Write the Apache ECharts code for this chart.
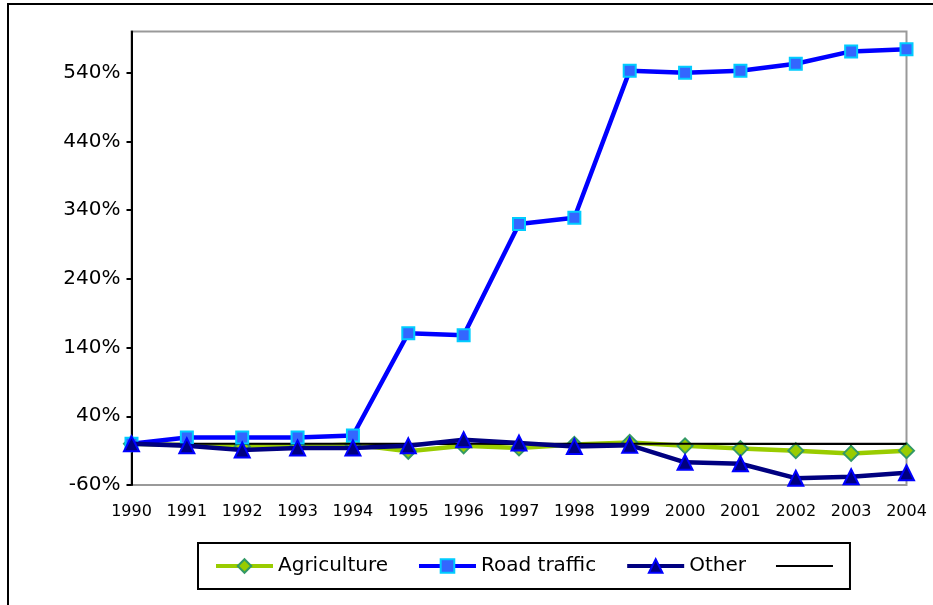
<!DOCTYPE html>
<html>
<head>
<meta charset="utf-8">
<script src="https://cdn.jsdelivr.net/npm/echarts@6/dist/echarts.min.js"></script>
<style>
  html, body { margin: 0; padding: 0; background: #fff; }
  #main { width: 933px; height: 605px; }
</style>
</head>
<body>
<div id="main"></div>
<script>
var years = ['1990', '1991', '1992', '1993', '1994', '1995', '1996', '1997', '1998', '1999', '2000', '2001', '2002', '2003', '2004'];
var agriculture = [0, -2, -4, -4, -1, -11, -3, -6, -1, 2, -3, -7, -10, -14, -10];
var roadTraffic = [0, 9, 9, 9, 12, 161, 158, 320, 329, 543, 540, 543, 553, 571, 574];
var other = [0, -3, -9, -6, -6, -3, 6, 1, -4, -2, -27, -29, -50, -48, -42];
var baseline = [0, 0, 0, 0, 0, 0, 0, 0, 0, 0, 0, 0, 0, 0, 0];
var yTicks = [-60, 40, 140, 240, 340, 440, 540];

function getChart(){
    var dom = document.getElementById("main");
    var myChart = echarts.init(dom);
    var font = 'DejaVu Sans';
    var option = {
        animation: false,
        backgroundColor: '#fff',
        textStyle: { fontFamily: font },
        graphic: [{
            type: 'rect',
            shape: { x: 8, y: 4, width: 960, height: 640 },
            style: { fill: 'none', stroke: '#000', lineWidth: 2 },
            silent: true
        }],
        grid: {
            left: 131.5,
            right: 26.5,
            top: 31.5,
            bottom: 120,
            show: true,
            borderColor: '#999',
            borderWidth: 2,
            backgroundColor: 'transparent'
        },
        legend: {
            left: 198,
            top: 543,
            padding: [13, 16, 13, 16],
            borderColor: '#000',
            borderWidth: 2,
            itemWidth: 57,
            itemHeight: 17,
            itemGap: 29,
            textStyle: { fontFamily: font, fontSize: 20, color: '#000' },
            data: [
                { name: 'Agriculture', lineStyle: { width: 4 } },
                { name: 'Road traffic', lineStyle: { width: 4 } },
                { name: 'Other', lineStyle: { width: 4 } },
                { name: 'Baseline', itemStyle: { opacity: 0 }, lineStyle: { width: 2, color: '#000', opacity: 1 } }
            ],
            formatter: function (name) {
                return name === 'Baseline' ? '' : name;
            }
        },
        xAxis: {
            type: 'category',
            boundaryGap: false,
            data: years,
            axisLine: { lineStyle: { color: '#000', width: 2 } },
            axisTick: { show: true, alignWithLabel: true, length: 5, lineStyle: { color: '#000', width: 2 } },
            axisLabel: { color: '#000', fontSize: 16, margin: 19, interval: 0, fontFamily: font },
            splitLine: { show: false }
        },
        yAxis: {
            type: 'value',
            min: -60,
            max: 600,
            interval: 100,
            axisLine: { show: true, lineStyle: { color: '#000', width: 2 } },
            axisTick: { show: true, length: 5, customValues: yTicks, lineStyle: { color: '#000', width: 2 } },
            axisLabel: {
                color: '#000', fontSize: 20, margin: 11, fontFamily: font,
                customValues: yTicks,
                formatter: function (v) { return v + '%'; }
            },
            splitLine: { show: false }
        },
        series: [
            {
                name: 'Agriculture',
                type: 'line',
                z: 2,
                data: agriculture,
                symbol: 'diamond',
                symbolSize: 15,
                lineStyle: { color: '#99cc00', width: 4.5 },
                itemStyle: { color: '#99cc00', borderColor: '#339966', borderWidth: 2 }
            },
            {
                name: 'Baseline',
                type: 'line',
                z: 3,
                data: baseline,
                symbol: 'none',
                lineStyle: { color: '#000', width: 2 },
                itemStyle: { color: '#000' }
            },
            {
                name: 'Road traffic',
                type: 'line',
                z: 4,
                data: roadTraffic,
                symbol: 'rect',
                symbolSize: 12,
                lineStyle: { color: '#0000ff', width: 4.5 },
                itemStyle: { color: '#3366ff', borderColor: '#00ccff', borderWidth: 2 }
            },
            {
                name: 'Other',
                type: 'line',
                z: 5,
                data: other,
                symbol: 'triangle',
                symbolSize: 15,
                lineStyle: { color: '#000080', width: 4.5 },
                itemStyle: { color: '#000080', borderColor: '#0000ff', borderWidth: 2 }
            }
        ]
    };
    if (option && typeof option === "object") {
        myChart.setOption(option, true);
    }
}
getChart();
</script>
</body>
</html>
